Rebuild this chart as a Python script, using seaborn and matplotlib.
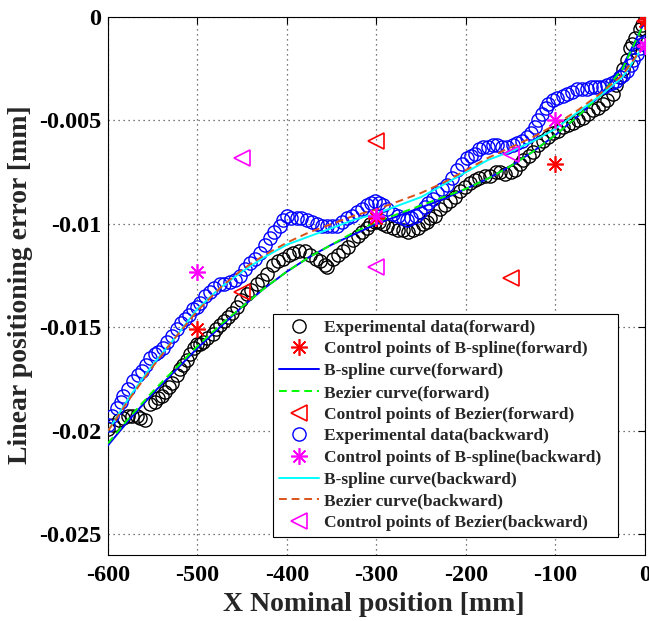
import numpy as np
import pandas as pd
import matplotlib
matplotlib.use("Agg")
import matplotlib.pyplot as plt
import seaborn as sns

# ---------------- data ----------------
fwd_x = [-600, -594, -588, -583, -578, -573, -568, -564, -559, -553, -548, -544, -540, -536,
         -532, -528, -523, -519, -516, -512, -508, -504, -501, -497, -494, -489, -483, -479,
         -475, -470, -466, -461, -456, -451, -445, -440, -434, -428, -422, -416, -410, -404,
         -398, -393, -387, -380, -374, -368, -363, -358, -355, -349, -343, -337, -332, -326,
         -321, -316, -311, -307, -302, -297, -293, -288, -282, -276, -270, -265, -259, -254,
         -248, -244, -240, -235, -229, -223, -218, -212, -207, -201, -196, -190, -185, -179,
         -173, -167, -162, -156, -150, -145, -140, -136, -130, -125, -119, -114, -108, -103,
         -97, -92, -86, -80, -75, -69, -64, -58, -53, -47, -42, -36, -32, -28, -24, -20, -17,
         -14, -11, -6, -3, 0]
fwd_y = [-0.0199, -0.0197, -0.0195, -0.0194, -0.0193, -0.0193, -0.0193, -0.0194, -0.0195,
         -0.0187, -0.0186, -0.0184, -0.0183, -0.0181, -0.0179, -0.0177, -0.0173, -0.0170,
         -0.0168, -0.0166, -0.0163, -0.0160, -0.0158, -0.0158, -0.0157, -0.0155, -0.0153,
         -0.0151, -0.0149, -0.0147, -0.0145, -0.0143, -0.0140, -0.0137, -0.0134, -0.0132,
         -0.0129, -0.0127, -0.0124, -0.0120, -0.0118, -0.0117, -0.0115, -0.0114, -0.0113,
         -0.0113, -0.0115, -0.0117, -0.0118, -0.0120, -0.0121, -0.0117, -0.0115, -0.0113,
         -0.0111, -0.0108, -0.0106, -0.0104, -0.0102, -0.0100, -0.0099, -0.0099, -0.0100,
         -0.0101, -0.0102, -0.0103, -0.0103, -0.0104, -0.0103, -0.0102, -0.0100, -0.0099,
         -0.0097, -0.0096, -0.0093, -0.0091, -0.0089, -0.0087, -0.0084, -0.0082, -0.0080,
         -0.0079, -0.0078, -0.0077, -0.0077, -0.0075, -0.0075, -0.0076, -0.0075, -0.0074,
         -0.0071, -0.0069, -0.0067, -0.0065, -0.0062, -0.0060, -0.0058, -0.0056, -0.0055,
         -0.0053, -0.0052, -0.0051, -0.0050, -0.0049, -0.0047, -0.0045, -0.0044, -0.0042,
         -0.0040, -0.0037, -0.0033, -0.0029, -0.0025, -0.0021, -0.0015, -0.0013, -0.0010,
         -0.0006, -0.0004, -0.0001]

bwd_x = [-600, -595, -590, -586, -583, -578, -572, -567, -562, -558, -553, -548, -544, -539,
         -534, -528, -523, -518, -514, -509, -505, -501, -497, -492, -486, -481, -475, -470,
         -464, -458, -453, -447, -441, -436, -430, -425, -419, -414, -408, -404, -400, -395,
         -389, -384, -378, -372, -366, -361, -355, -350, -344, -339, -333, -327, -322, -316,
         -311, -306, -302, -297, -293, -288, -282, -276, -270, -266, -261, -256, -251, -246,
         -242, -237, -232, -227, -221, -216, -210, -205, -199, -194, -190, -185, -181, -175,
         -170, -165, -160, -154, -148, -143, -137, -132, -127, -123, -119, -115, -111, -108,
         -103, -98, -92, -87, -82, -76, -70, -65, -60, -56, -51, -47, -42, -37, -32, -28, -24,
         -20, -16, -13, -9, -6, -3, 0]
bwd_y = [-0.0197, -0.0193, -0.0189, -0.0186, -0.0183, -0.0180, -0.0176, -0.0173, -0.0171,
         -0.0168, -0.0165, -0.0163, -0.0162, -0.0160, -0.0157, -0.0154, -0.0151, -0.0148,
         -0.0146, -0.0144, -0.0141, -0.0140, -0.0138, -0.0135, -0.0133, -0.0131, -0.0129,
         -0.0129, -0.0128, -0.0127, -0.0125, -0.0122, -0.0119, -0.0117, -0.0114, -0.0110,
         -0.0107, -0.0104, -0.0101, -0.0098, -0.0096, -0.0097, -0.0097, -0.0097, -0.0098,
         -0.0099, -0.0100, -0.0101, -0.0101, -0.0101, -0.0101, -0.0099, -0.0097, -0.0096,
         -0.0094, -0.0093, -0.0091, -0.0090, -0.0089, -0.0090, -0.0091, -0.0093, -0.0095,
         -0.0096, -0.0097, -0.0098, -0.0097, -0.0096, -0.0094, -0.0092, -0.0090, -0.0088,
         -0.0085, -0.0083, -0.0081, -0.0078, -0.0074, -0.0071, -0.0068, -0.0067, -0.0066,
         -0.0064, -0.0063, -0.0063, -0.0062, -0.0062, -0.0063, -0.0063, -0.0062, -0.0061,
         -0.0060, -0.0058, -0.0056, -0.0053, -0.0050, -0.0047, -0.0044, -0.0042, -0.0040,
         -0.0039, -0.0038, -0.0037, -0.0036, -0.0035, -0.0035, -0.0035, -0.0034, -0.0034,
         -0.0034, -0.0034, -0.0033, -0.0032, -0.0031, -0.0029, -0.0028, -0.0026, -0.0023,
         -0.0021, -0.0018, -0.0015, -0.0013, -0.0012]

curve_x = [-600, -575, -550, -525, -500, -475, -450, -425, -400, -375, -350, -325, -300,
           -275, -250, -225, -200, -175, -150, -125, -100, -75, -50, -25, 0]
bspline_fwd_y = [-0.0207, -0.0194, -0.0182, -0.0171, -0.0160, -0.0150, -0.0140, -0.0131,
                 -0.0123, -0.0116, -0.0110, -0.0105, -0.0100, -0.0096, -0.0092, -0.0088,
                 -0.0083, -0.0078, -0.0072, -0.0065, -0.0057, -0.0048, -0.0038, -0.0024,
                 -0.0002]
bezier_fwd_y = [-0.0206, -0.0193, -0.0181, -0.0170, -0.0159, -0.0149, -0.0140, -0.0131,
                -0.0123, -0.0116, -0.0110, -0.0104, -0.0099, -0.0095, -0.0091, -0.0087,
                -0.0083, -0.0078, -0.0072, -0.0065, -0.0057, -0.0048, -0.0038, -0.0025,
                -0.0002]
bspline_bwd_y = [-0.0200, -0.0183, -0.0168, -0.0155, -0.0141, -0.0131, -0.0123, -0.0116,
                 -0.0110, -0.0106, -0.0102, -0.0098, -0.0095, -0.0091, -0.0087, -0.0081,
                 -0.0075, -0.0069, -0.0065, -0.0060, -0.0054, -0.0046, -0.0038, -0.0029,
                 -0.0013]
bezier_bwd_y = [-0.0200, -0.0184, -0.0169, -0.0155, -0.0142, -0.0131, -0.0122, -0.0115,
                -0.0109, -0.0104, -0.0100, -0.0096, -0.0093, -0.0089, -0.0085, -0.0080,
                -0.0074, -0.0068, -0.0063, -0.0058, -0.0052, -0.0045, -0.0037, -0.0028,
                -0.0013]

ctrl_bs_fwd_x = [-500, -300, -100, 0]
ctrl_bs_fwd_y = [-0.0151, -0.0097, -0.0071, -0.0002]
ctrl_bs_bwd_x = [-500, -300, -100, 0]
ctrl_bs_bwd_y = [-0.0123, -0.0096, -0.0050, -0.0014]
ctrl_bz_fwd_x = [-450, -300, -150, 0]
ctrl_bz_fwd_y = [-0.0133, -0.0060, -0.0126, -0.0002]
ctrl_bz_bwd_x = [-450, -300, -150, 0]
ctrl_bz_bwd_y = [-0.0068, -0.0121, -0.0066, -0.0014]

xticks = [-600, -500, -400, -300, -200, -100, 0]
xtick_labels = ["-600", "-500", "-400", "-300", "-200", "-100", "0"]
yticks = [-0.025, -0.02, -0.015, -0.01, -0.005, 0]
ytick_labels = ["-0.025", "-0.02", "-0.015", "-0.01", "-0.005", "0"]

labels = ["Experimental data(forward)", "Control points of B-spline(forward)",
          "B-spline curve(forward)", "Bezier curve(forward)",
          "Control points of Bezier(forward)", "Experimental data(backward)",
          "Control points of B-spline(backward)", "B-spline curve(backward)",
          "Bezier curve(backward)", "Control points of Bezier(backward)"]

# ---------------- style ----------------
sns.set_style("white")
plt.rcParams["font.family"] = ["Liberation Serif", "DejaVu Serif"]
plt.rcParams["font.weight"] = "bold"
plt.rcParams["axes.labelweight"] = "bold"
plt.rcParams["axes.unicode_minus"] = False

fig = plt.figure(figsize=(6.49, 6.21), dpi=100)
ax = fig.add_axes([0.1664, 0.1063, 0.8274, 0.8663])

ASTER = (8, 2, 0)
common = dict(ax=ax, estimator=None, sort=False)

def markers(x, y, marker, color, ms, mew, label, z):
    sns.lineplot(x=x, y=y, linestyle="", marker=marker, markersize=ms,
                 markerfacecolor="none", markeredgecolor=color, markeredgewidth=mew,
                 color=color, label=label, zorder=z, **common)

def curve(x, y, color, ls, label, z):
    kw = dict(color=color, linewidth=1.4, label=label, zorder=z)
    if ls == "--":
        kw["dashes"] = (4, 2.5)
    sns.lineplot(x=x, y=y, **kw, **common)

markers(fwd_x, fwd_y, "o", "black", 9.5, 1.0, labels[0], 2)
markers(ctrl_bs_fwd_x, ctrl_bs_fwd_y, ASTER, "#ff0000", 12, 1.2, labels[1], 6)
curve(curve_x, bspline_fwd_y, "#0000ff", "-", labels[2], 4)
curve(curve_x, bezier_fwd_y, "#00ff00", "--", labels[3], 4)
markers(ctrl_bz_fwd_x, ctrl_bz_fwd_y, "<", "#ff0000", 12, 1.2, labels[4], 6)
markers(bwd_x, bwd_y, "o", "#0000ff", 9.5, 1.0, labels[5], 3)
markers(ctrl_bs_bwd_x, ctrl_bs_bwd_y, ASTER, "#ff00ff", 12, 1.2, labels[6], 6)
curve(curve_x, bspline_bwd_y, "#00ffff", "-", labels[7], 5)
curve(curve_x, bezier_bwd_y, "#d95319", "--", labels[8], 5)
markers(ctrl_bz_bwd_x, ctrl_bz_bwd_y, "<", "#ff00ff", 12, 1.2, labels[9], 6)

ax.set_xlim(-600, 0)
ax.set_ylim(-0.026, 0)
ax.set_xticks(xticks)
ax.set_xticklabels(xtick_labels)
ax.set_yticks(yticks)
ax.set_yticklabels(ytick_labels)
ax.tick_params(direction="in", top=True, right=True, length=5, width=0.8,
               labelsize=17.5, colors="black")
ax.tick_params(axis="x", pad=7)
ax.tick_params(axis="y", pad=5)
for lab in ax.get_xticklabels() + ax.get_yticklabels():
    lab.set_fontweight("bold")
ax.grid(True, linestyle=(0, (1, 3)), color="0.3", linewidth=0.9)
for s in ax.spines.values():
    s.set_color("black")
    s.set_linewidth(0.8)

ax.set_xlabel("X Nominal position [mm]", fontsize=20, fontweight="bold")
ax.set_ylabel("Linear positioning error [mm]", fontsize=20, fontweight="bold")
ax.xaxis.set_label_coords(0.494, -0.068)
ax.yaxis.set_label_coords(-0.140, 0.502)

handles, labs = ax.get_legend_handles_labels()
leg = ax.legend(handles, labs, loc="lower left",
                bbox_to_anchor=(0.307, 0.033, 0.643, 0.422), mode="expand",
                prop={"weight": "bold", "size": 12.5, "family": "Liberation Serif"},
                frameon=True, fancybox=False, edgecolor="black", framealpha=1,
                handlelength=2.3, handletextpad=0.3, labelspacing=0.32,
                borderpad=0.35, borderaxespad=0)
leg.get_frame().set_linewidth(0.8)

fig.savefig("out.png", dpi=100)
